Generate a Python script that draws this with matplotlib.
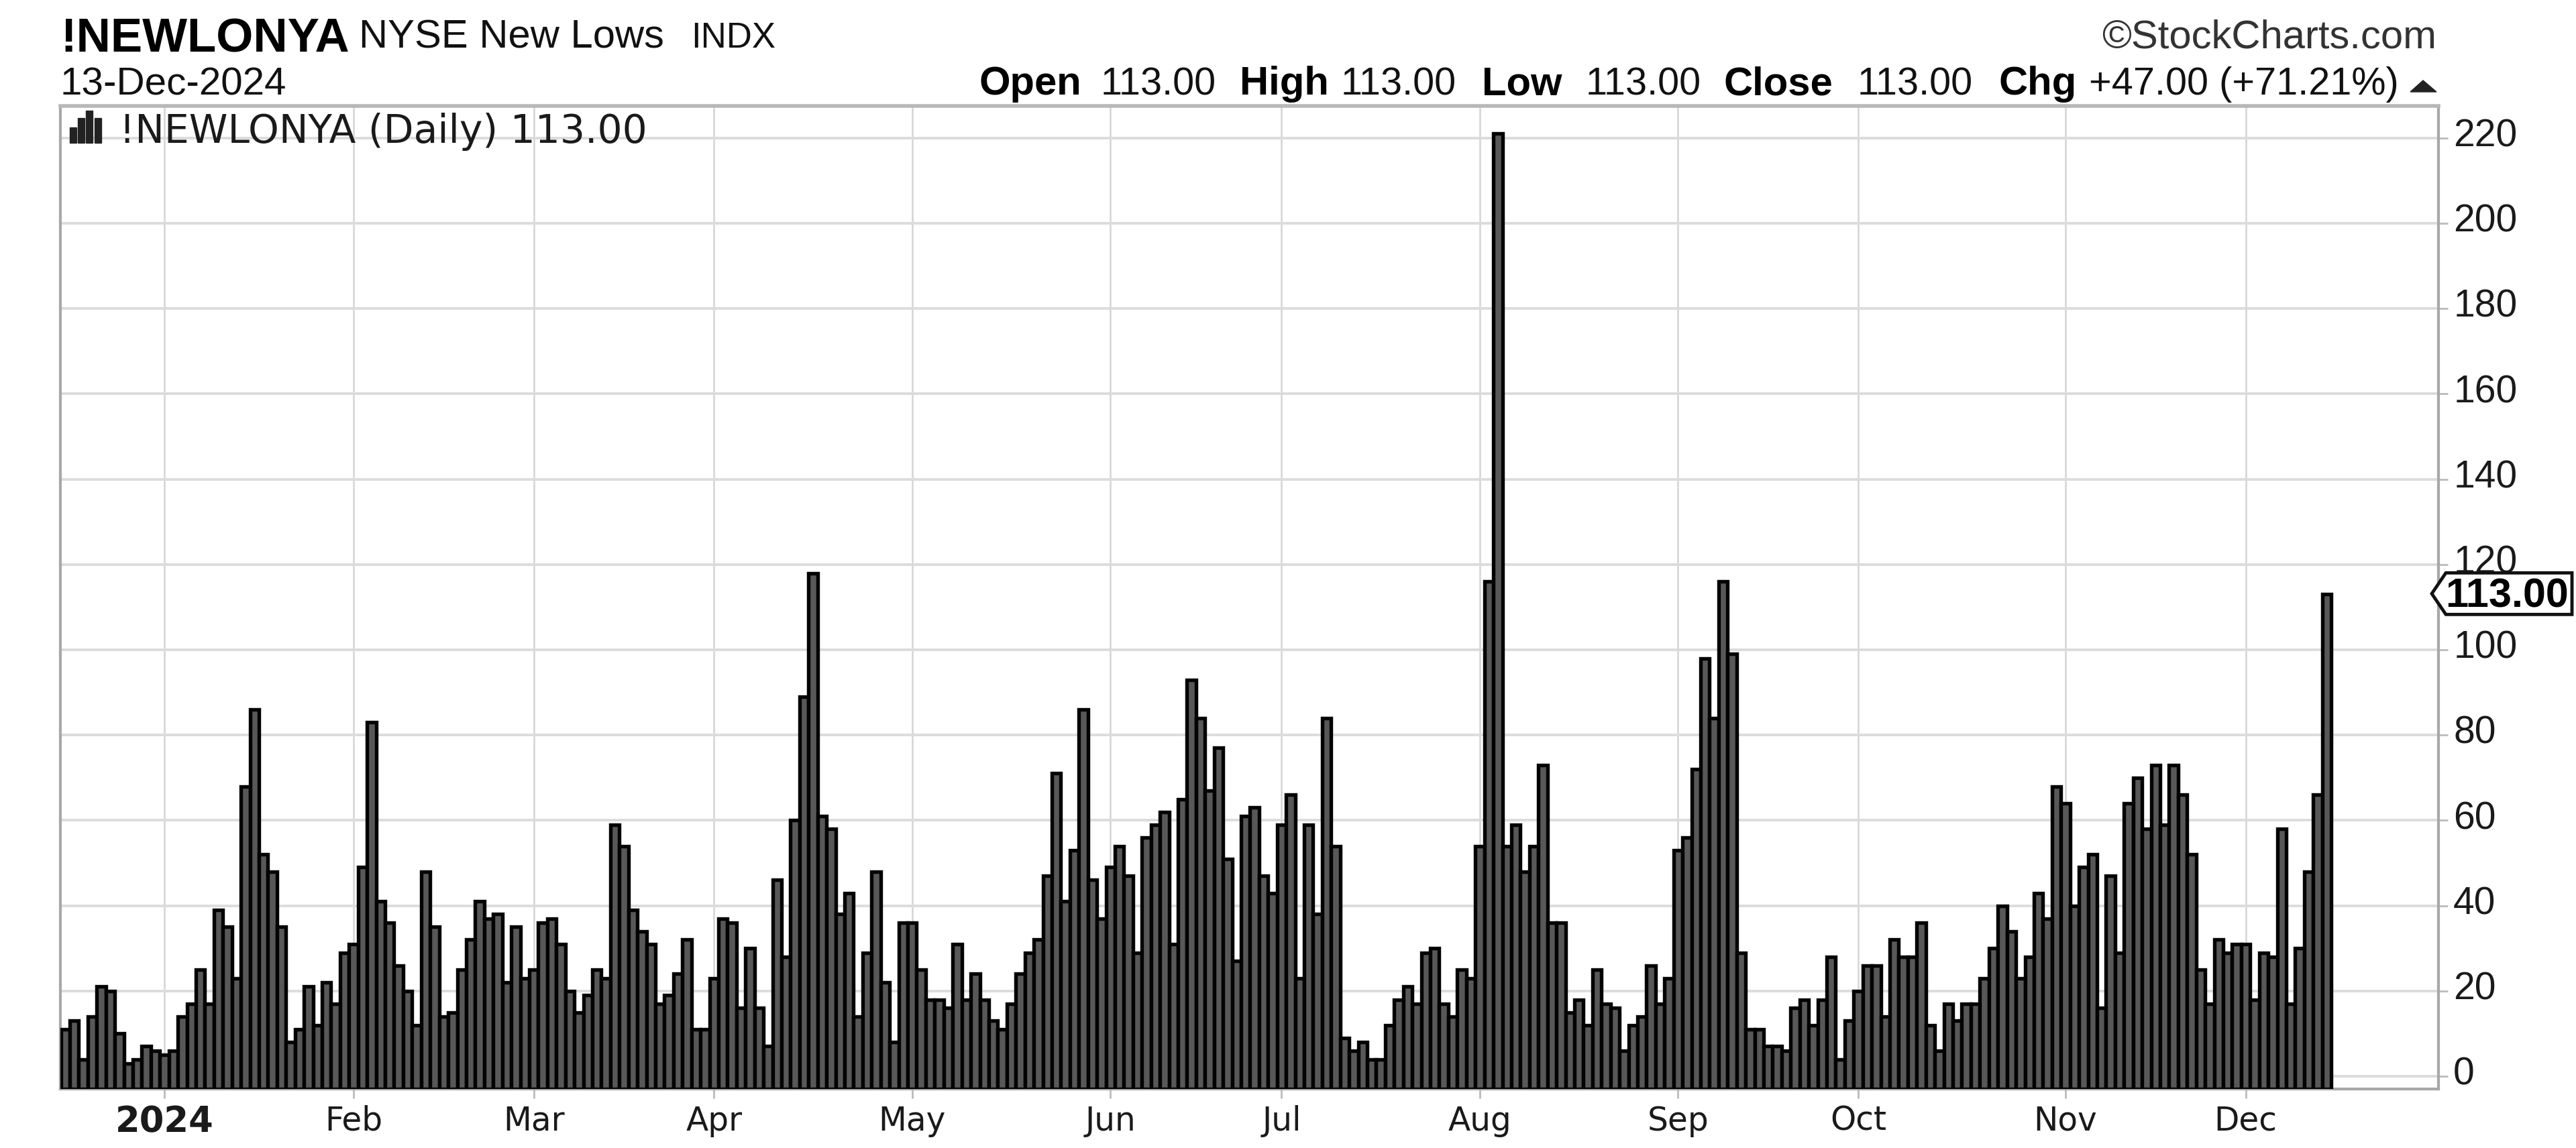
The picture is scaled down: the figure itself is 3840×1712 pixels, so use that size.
import matplotlib
matplotlib.use("Agg")
import matplotlib.pyplot as plt
from matplotlib.patches import Polygon, Rectangle
from matplotlib.transforms import ScaledTranslation
import numpy as np

W, H = 3840, 1712

new_lows = [
    11, 13, 4, 14, 21, 20, 10, 3, 4, 7, 6, 5, 6, 14, 17, 25, 17, 39, 35, 23,
    68, 86, 52, 48, 35, 8, 11, 21, 12, 22, 17, 29, 31, 49, 83, 41, 36, 26, 20, 12,
    48, 35, 14, 15, 25, 32, 41, 37, 38, 22, 35, 23, 25, 36, 37, 31, 20, 15, 19, 25,
    23, 59, 54, 39, 34, 31, 17, 19, 24, 32, 11, 11, 23, 37, 36, 16, 30, 16, 7, 46,
    28, 60, 89, 118, 61, 58, 38, 43, 14, 29, 48, 22, 8, 36, 36, 25, 18, 18, 16, 31,
    18, 24, 18, 13, 11, 17, 24, 29, 32, 47, 71, 41, 53, 86, 46, 37, 49, 54, 47, 29,
    56, 59, 62, 31, 65, 93, 84, 67, 77, 51, 27, 61, 63, 47, 43, 59, 66, 23, 59, 38,
    84, 54, 9, 6, 8, 4, 4, 12, 18, 21, 17, 29, 30, 17, 14, 25, 23, 54, 116, 221,
    54, 59, 48, 54, 73, 36, 36, 15, 18, 12, 25, 17, 16, 6, 12, 14, 26, 17, 23, 53,
    56, 72, 98, 84, 116, 99, 29, 11, 11, 7, 7, 6, 16, 18, 12, 18, 28, 4, 13, 20,
    26, 26, 14, 32, 28, 28, 36, 12, 6, 17, 13, 17, 17, 23, 30, 40, 34, 23, 28, 43,
    37, 68, 64, 40, 49, 52, 16, 47, 29, 64, 70, 58, 73, 59, 73, 66, 52, 25, 17, 32,
    29, 31, 31, 18, 29, 28, 58, 17, 30, 48, 66, 113,
]
month_pos = [11, 32, 52, 72, 94, 116, 135, 157, 179, 199, 222, 242]
month_labels = ["2024", "Feb", "Mar", "Apr", "May", "Jun", "Jul", "Aug", "Sep", "Oct", "Nov", "Dec"]
y_ticks = list(range(0, 221, 20))
last_value = 113.00

SANS = "Liberation Sans"
fig = plt.figure(figsize=(W / 100, H / 100), dpi=100, facecolor="white")


def fx(x):
    return x / W


def fy(y):
    return 1 - y / H


L, R, T, B = 90, 3635, 158, 1624
ax = fig.add_axes([fx(L), fy(B), (R - L) / W, (B - T) / H])
y_base = -(B - 1605) / 6.36
ax.set_ylim(y_base, (1605 - T) / 6.36)
ax.set_xlim(-0.54, 263.4)

x = np.arange(len(new_lows))
vals = np.array(new_lows, dtype=float)
ax.bar(x, vals - y_base, bottom=y_base, width=1.0, color="#585858",
       edgecolor="#030303", linewidth=3.9, zorder=3)

ax.set_yticks(y_ticks)
ax.set_xticks(month_pos)
ax.set_xticklabels(month_labels, family="DejaVu Sans", fontsize=35, color="#1a1a1a")
ax.get_xticklabels()[0].set_fontweight("bold")
ax.get_xticklabels()[0].set_fontsize(38)
ax.yaxis.tick_right()
ax.tick_params(axis="y", length=10, width=2, color="#bbbbbb", pad=6, labelsize=41,
               labelcolor="#1a1a1a")
ax.tick_params(axis="x", length=10, width=2, color="#bbbbbb", pad=7)
up = ScaledTranslation(0, 6 / 72, fig.dpi_scale_trans)
for lab in ax.get_yticklabels():
    lab.set_family(SANS)
    lab.set_transform(lab.get_transform() + up)
ax.grid(axis="y", color="#dcdcdc", linewidth=2.8, zorder=0)
ax.grid(axis="x", color="#d4d4d4", linewidth=1.8, zorder=0)
ax.set_axisbelow(True)
for s in ax.spines.values():
    s.set_color("#a8a8a8")
    s.set_linewidth(3)
ax.spines["top"].set_color("#b8b8b8")
ax.spines["top"].set_linewidth(4)


def put(xp, yp, s, **kw):
    kw.setdefault("family", SANS)
    kw.setdefault("color", "#111111")
    kw.setdefault("va", "baseline")
    return fig.text(fx(xp), fy(yp), s, **kw)


put(90, 77, "!NEWLONYA", fontsize=51, fontweight="bold", color="black")
put(535, 71, "NYSE New Lows", fontsize=43)
put(1030, 71, "INDX", fontsize=38)
put(90, 141, "13-Dec-2024", fontsize=42)
put(3632, 71, "©StockCharts.com", fontsize=43, ha="right", color="#333333")

row = [(1459, "Open", True), (1641, "113.00", False), (1848, "High", True), (1999, "113.00", False),
       (2209, "Low", True), (2364, "113.00", False), (2570, "Close", True), (2769, "113.00", False),
       (2979, "Chg", True), (3114, "+47.00 (+71.21%)", False)]
for xp, s, bold in row:
    put(xp, 141, s, fontsize=43 if bold else 41.5, fontweight="bold" if bold else "normal",
        color="black" if bold else "#111111")
fig.add_artist(Polygon([[fx(3593), fy(137)], [fx(3632), fy(137)], [fx(3612), fy(120)]],
                       closed=True, transform=fig.transFigure, color="#222222"))

# legend line
put(178, 213, "!NEWLONYA (Daily) 113.00", fontsize=42, family="DejaVu Sans", color="#1a1a1a",
    zorder=6)
for xp, yp in [(104, 190), (116, 176), (128, 165), (141, 176)]:
    fig.add_artist(Rectangle((fx(xp), fy(213)), 10 / W, (213 - yp) / H,
                             transform=fig.transFigure, color="#222222"))

# last value tag
yc = H - ax.transData.transform((0, last_value))[1] - 1
h2 = 31
tag = [[3625, yc], [3646, yc - h2], [3834, yc - h2], [3834, yc + h2], [3646, yc + h2]]
fig.add_artist(Polygon([[fx(a), fy(b)] for a, b in tag], closed=True, transform=fig.transFigure,
                       facecolor="white", edgecolor="#111111", linewidth=3.5, zorder=5))
put(3737, yc + 20, "113.00", fontsize=44, fontweight="bold", ha="center", color="black", zorder=6)

fig.savefig("out.png", dpi=100, facecolor="white")
